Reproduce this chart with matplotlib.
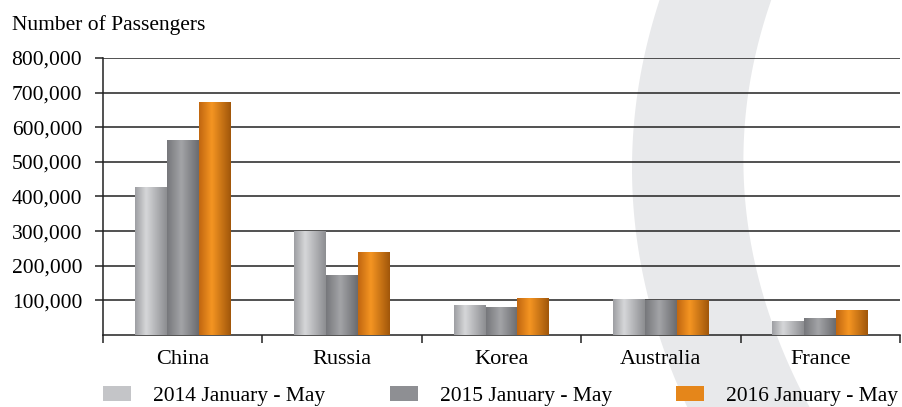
import numpy as np
import matplotlib
matplotlib.use("Agg")
import matplotlib.pyplot as plt
from matplotlib.colors import LinearSegmentedColormap
from matplotlib.patches import Polygon
from matplotlib.ticker import FuncFormatter

# data
categories = ["China", "Russia", "Korea", "Australia", "France"]
series = ["2014 January - May", "2015 January - May", "2016 January - May"]
pax_2014 = [428000, 301000, 87000, 105000, 40000]
pax_2015 = [563000, 173000, 81000, 100000, 48000]
pax_2016 = [672000, 241000, 106000, 100000, 72000]
y_ticks = [100000, 200000, 300000, 400000, 500000, 600000, 700000, 800000]

# shaded "cylinder" look for each series: (position, colour) stops across the bar
shades = [
    [(0.0, "#9d9ea2"), (0.35, "#d6d7d9"), (1.0, "#8c8d91")],
    [(0.0, "#76777b"), (0.45, "#a3a4a7"), (1.0, "#6a6b6f")],
    [(0.0, "#c06610"), (0.4, "#f59522"), (1.0, "#a0560a")],
]
solid = ["#c4c5c8", "#8e8f93", "#e5861a"]

plt.rcParams["font.family"] = ["Liberation Serif", "DejaVu Serif"]
FS = 15.5

W, H = 902, 407
fig = plt.figure(figsize=(W / 100, H / 100), dpi=100)

# decorative light grey crescent behind the chart
bg = fig.add_axes([0, 0, 1, 1], zorder=0)
bg.set_xlim(0, W)
bg.set_ylim(H, 0)
bg.axis("off")
edge_y = [0, 130, 250, 330, 407]
yy = np.linspace(-5, H + 5, 60)
left_x = np.polyval(np.polyfit(edge_y, [660, 632, 640, 657, 687], 2), yy)
right_x = np.polyval(np.polyfit(edge_y, [772, 743, 750, 780, 807], 2), yy)
pts = np.vstack([np.column_stack([left_x, yy]), np.column_stack([right_x, yy])[::-1]])
bg.add_patch(Polygon(pts, closed=True, facecolor="#e8e9eb", edgecolor="none"))

ax = fig.add_axes([103 / W, (H - 335) / H, 797 / W, 277 / H], zorder=1)
ax.patch.set_alpha(0)

x = np.arange(len(categories))
width = 0.2
offsets = [-width, 0, width]
grad = np.linspace(0, 1, 256).reshape(1, -1)
containers = []
for vals, off, stops, col, name in zip([pax_2014, pax_2015, pax_2016], offsets, shades, solid, series):
    bars = ax.bar(x + off, vals, width, color=col, label=name, zorder=3, linewidth=0)
    containers.append(bars)
    cmap = LinearSegmentedColormap.from_list("s", stops)
    for b in bars:
        x0, w, h = b.get_x(), b.get_width(), b.get_height()
        im = ax.imshow(grad, extent=[x0, x0 + w, 0, h], aspect="auto", cmap=cmap,
                       interpolation="bicubic", zorder=4)
        im.set_clip_path(b)

ax.set_xlim(-0.5, len(categories) - 0.5)
ax.set_ylim(0, 800000)
ax.set_yticks(y_ticks)
ax.yaxis.set_major_formatter(FuncFormatter(lambda v, p: f"{int(v):,}"))
ax.grid(axis="y", color="#222222", linewidth=1.1, zorder=1)
ax.tick_params(axis="y", length=6, width=1.1, color="#222222", pad=9, labelsize=FS)

# category boundaries get the tick marks, labels sit in between
ax.set_xticks(np.arange(len(categories) + 1) - 0.5)
ax.set_xticklabels([])
ax.set_xticks(x, minor=True)
ax.set_xticklabels(categories, minor=True, fontsize=16)
ax.tick_params(axis="x", which="major", length=6, width=1.1, color="#222222")
ax.tick_params(axis="x", which="minor", length=0, pad=10.5)

for s in ["top", "right"]:
    ax.spines[s].set_visible(False)
for s in ["left", "bottom"]:
    ax.spines[s].set_color("#222222")
    ax.spines[s].set_linewidth(1.1)

fig.text(12 / W, (H - 30) / H, "Number of Passengers", fontsize=FS, va="baseline")

fig.legend(handles=containers, labels=series, loc="center left", ncol=3,
           bbox_to_anchor=(103 / W, (H - 396) / H), frameon=False, borderpad=0,
           borderaxespad=0, fontsize=FS, handlelength=1.3, handleheight=0.7,
           handletextpad=1.02, columnspacing=3.0)

fig.savefig("out.png", dpi=100)
